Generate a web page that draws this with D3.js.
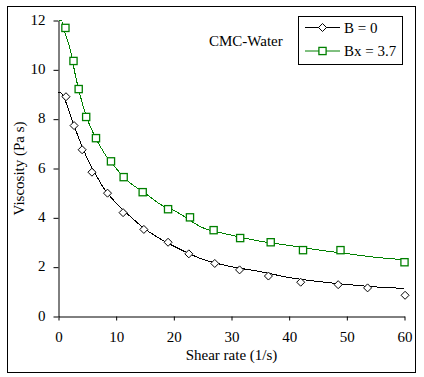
<!DOCTYPE html>
<html>
<head>
<meta charset="utf-8">
<script src="https://cdn.jsdelivr.net/npm/d3@7"></script>
<style>
    body { margin: 0; background: #fff; }
    text { font-family: "Liberation Serif", "Times New Roman", serif; fill: #000; }
</style>
</head>
<body>
<div id="chart"></div>
<script>
// Measured points (shear rate, viscosity)
const b0Rate = [1.3, 2.7, 4.1, 5.8, 8.5, 11.2, 14.8, 19.0, 22.6, 27.1, 31.4, 36.4, 42.0, 48.5, 53.6, 60.1];
const b0Visc = [8.91, 7.74, 6.76, 5.85, 5.00, 4.21, 3.53, 3.01, 2.54, 2.15, 1.89, 1.64, 1.39, 1.29, 1.16, 0.86];

const bxRate = [1.2, 2.6, 3.5, 4.8, 6.5, 9.1, 11.3, 14.6, 19.0, 22.8, 26.9, 31.5, 36.8, 42.4, 48.9, 60.0];
const bxVisc = [11.70, 10.36, 9.22, 8.09, 7.23, 6.29, 5.65, 5.04, 4.35, 4.02, 3.50, 3.18, 3.01, 2.69, 2.69, 2.20];

// Model curves
const fitRate = [0, 0.5, 1, 2, 3, 4, 5, 6, 8, 10, 12, 15, 18, 20, 25, 30, 35, 40, 45, 50, 55, 60];
const b0Fit = [9.1, 9.05, 8.85, 8.2, 7.55, 6.95, 6.4, 5.95, 5.15, 4.6, 4.15, 3.55, 3.1, 2.85, 2.32, 2.02, 1.82, 1.58, 1.42, 1.30, 1.20, 1.14];
const bxFit = [12.0, 12.0, 11.6, 10.85, 9.7, 8.75, 8.0, 7.45, 6.6, 6.0, 5.5, 5.0, 4.5, 4.3, 3.6, 3.3, 3.05, 2.88, 2.7, 2.55, 2.4, 2.3];

const xTicks = [0, 10, 20, 30, 40, 50, 60];
const yTicks = [0, 2, 4, 6, 8, 10, 12];

const width = 424;
const height = 377;

const svg = d3.select("#chart")
    .append("svg")
    .attr("width", width)
    .attr("height", height);

// Outer frame
svg.append("rect")
    .attr("x", 7.5)
    .attr("y", 6.5)
    .attr("width", 408)
    .attr("height", 366)
    .attr("fill", "none")
    .attr("stroke", "#000")
    .attr("stroke-width", 1);

const x = d3.scaleLinear().domain([0, 60]).range([58.5, 404.5]);
const y = d3.scaleLinear().domain([0, 12]).range([316.5, 20.5]);

// Axes
const xAxis = svg.append("g")
    .attr("transform", `translate(0,${y(0)})`)
    .call(d3.axisBottom(x).tickValues(xTicks).tickSize(4).tickSizeOuter(0).tickPadding(11));

const yAxis = svg.append("g")
    .attr("transform", `translate(${x(0)},0)`)
    .call(d3.axisLeft(y).tickValues(yTicks).tickSize(5).tickSizeOuter(0).tickPadding(8));

[xAxis, yAxis].forEach(ax => {
    ax.selectAll("path, line").attr("stroke", "#000").attr("stroke-width", 1);
    ax.selectAll("text")
        .style("font-family", "'Liberation Serif', serif")
        .style("font-size", "15px")
        .attr("fill", "#000");
});
yAxis.selectAll("text").attr("dy", "0.25em");

// Axis titles
svg.append("text")
    .attr("x", (x(0) + x(60)) / 2)
    .attr("y", 360)
    .attr("text-anchor", "middle")
    .style("font-size", "15px")
    .text("Shear rate (1/s)");

svg.append("text")
    .attr("transform", `translate(24,${(y(0) + y(12)) / 2}) rotate(-90)`)
    .attr("text-anchor", "middle")
    .style("font-size", "15px")
    .text("Viscosity (Pa s)");

svg.append("text")
    .attr("x", 209)
    .attr("y", 45.5)
    .style("font-size", "15px")
    .text("CMC-Water");

// Fitted curves
const line = d3.line()
    .x(d => x(d[0]))
    .y(d => y(d[1]))
    .curve(d3.curveMonotoneX);

const series = [
    { name: "B = 0", color: "#000", rate: b0Rate, visc: b0Visc, fit: b0Fit, shape: "diamond" },
    { name: "Bx = 3.7", color: "#008000", rate: bxRate, visc: bxVisc, fit: bxFit, shape: "square" }
];

series.forEach(s => {
    svg.append("path")
        .datum(fitRate.map((r, i) => [r, s.fit[i]]))
        .attr("fill", "none")
        .attr("stroke", s.color)
        .attr("stroke-width", 1)
        .attr("shape-rendering", "crispEdges")
        .attr("d", line);
});

// Markers
function drawMarker(g, shape, color, cx, cy) {
    if (shape === "square") {
        g.append("rect")
            .attr("x", cx - 3.6)
            .attr("y", cy - 3.6)
            .attr("width", 7.2)
            .attr("height", 7.2)
            .attr("fill", "#fff")
            .attr("stroke", color)
            .attr("stroke-width", 1.3);
    } else {
        g.append("path")
            .attr("d", `M${cx},${cy - 4}L${cx + 4},${cy}L${cx},${cy + 4}L${cx - 4},${cy}Z`)
            .attr("fill", "#fff")
            .attr("stroke", color)
            .attr("stroke-width", 1);
    }
}

series.forEach(s => {
    const g = svg.append("g");
    s.rate.forEach((r, i) => drawMarker(g, s.shape, s.color, x(r), y(s.visc[i])));
});

// Legend
const legend = svg.append("g");
legend.append("rect")
    .attr("x", 298.5)
    .attr("y", 16.5)
    .attr("width", 104)
    .attr("height", 48)
    .attr("fill", "#fff")
    .attr("stroke", "#000")
    .attr("stroke-width", 1);

series.forEach((s, i) => {
    const ly = 27.5 + i * 23.5;
    legend.append("line")
        .attr("x1", 305)
        .attr("x2", 340)
        .attr("y1", ly)
        .attr("y2", ly)
        .attr("stroke", s.color)
        .attr("stroke-width", 1);
    drawMarker(legend, s.shape, s.color, 322.5, ly);
    legend.append("text")
        .attr("x", 344)
        .attr("y", ly + 5)
        .style("font-size", "15px")
        .text(s.name);
});
</script>
</body>
</html>
